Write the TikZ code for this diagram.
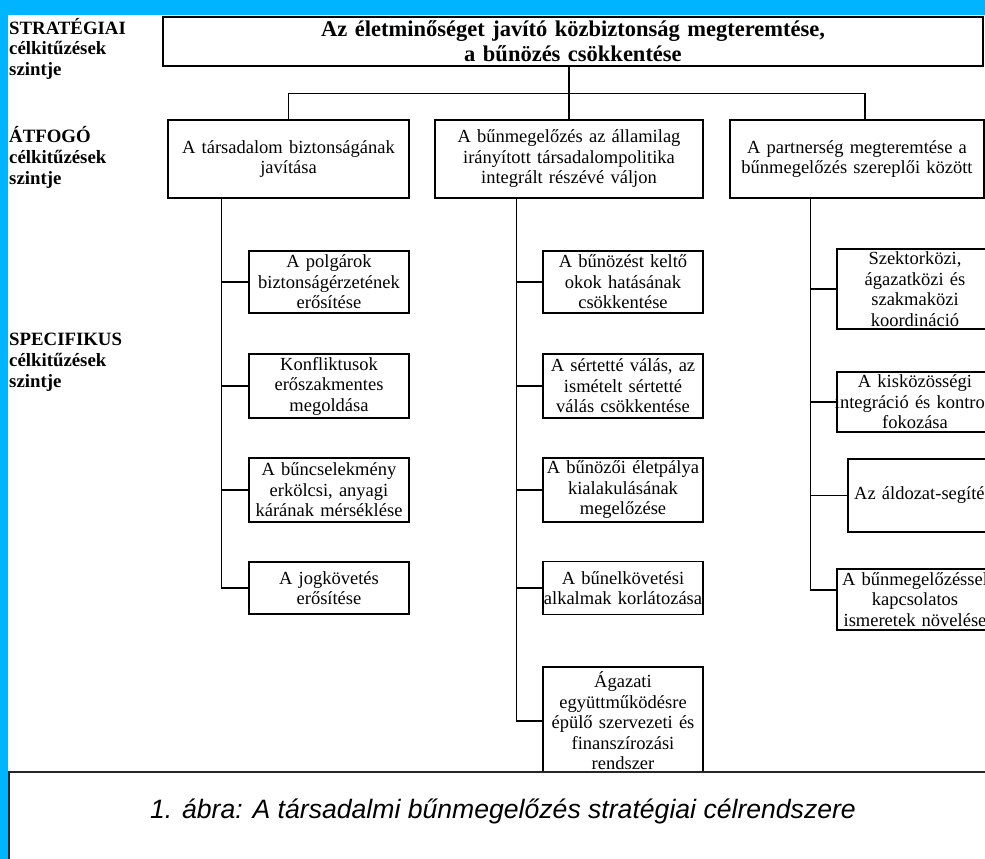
\documentclass[tikz,border=0pt]{standalone}
\usepackage{fontspec}
\setmainfont{Liberation Serif}
\newfontfamily\capfont{Liberation Sans}
\usetikzlibrary{positioning}

\definecolor{barblue}{RGB}{0,180,255}
\newcommand{\boxtxt}{\fontsize{18.5}{20.5}\selectfont}
\newcommand{\lvltxt}{\bfseries\fontsize{18.8}{21}\selectfont}
\newcommand{\wide}[1]{\makebox[\linewidth][c]{#1}}

\begin{document}
\begin{tikzpicture}[x=1pt,y=1pt,on grid,
    box/.style 2 args={draw, line width=1.3pt, inner sep=0pt, align=center,
        text width=#1, minimum height=#2, font=\boxtxt},
    lvl/.style={anchor=base west, align=left, inner sep=0pt, font=\lvltxt},
    wire/.style={line width=1.3pt}]

    \useasboundingbox (0,0) rectangle (985,-859);
    \fill[barblue] (0,0) rectangle (985,-15);
    \fill[barblue] (0,0) rectangle (8,-859);

    % levels (anchored at the baseline of the last line)
    \node[lvl] (l_str) at (9,-76) {STRATÉGIAI\\célkitűzések\\szintje};
    \node[lvl] (l_atf) at (9,-184) {ÁTFOGÓ\\célkitűzések\\szintje};
    \node[lvl] (l_spe) at (9,-387) {SPECIFIKUS\\célkitűzések\\szintje};

    % strategic and general goals
    \node[box={820pt}{49pt}, font=\bfseries\fontsize{22.5}{25}\selectfont] (top) at (573,-41.5)
        {Az életminőséget javító közbiztonság megteremtése,\\a bűnözés csökkentése};
    \node[box={268pt}{78pt}] (gb) [below left=117.5pt and 4pt of top]
        {A bűnmegelőzés az államilag\\irányított társadalompolitika\\integrált részévé váljon};
    \node[box={241pt}{78pt}] (ga) [left=280.5pt of gb]
        {A társadalom biztonságának\\javítása};
    \node[box={254pt}{78pt}] (gc) [right=288pt of gb]
        {A partnerség megteremtése a\\bűnmegelőzés szereplői között};

    % specific goals
    \node[box={160pt}{62pt}] (a1) [below right=123pt and 40.5pt of ga]
        {A polgárok\\biztonságérzetének\\erősítése};
    \node[box={160pt}{64pt}] (a2) [below=104pt of a1]
        {Konfliktusok\\erőszakmentes\\megoldása};
    \node[box={160pt}{64pt}] (a3) [below=104pt of a2]
        {A bűncselekmény\\erkölcsi, anyagi\\kárának mérséklése};
    \node[box={160pt}{52pt}] (a4) [below=98pt of a3]
        {A jogkövetés\\erősítése};

    \node[box={160pt}{62pt}] (b1) [below right=123pt and 54pt of gb]
        {A bűnözést keltő\\okok hatásának\\csökkentése};
    \node[box={160pt}{64pt}] (b2) [below=104pt of b1]
        {A sértetté válás, az\\ismételt sértetté\\válás csökkentése};
    \node[box={160pt}{64pt}] (b3) [below=104pt of b2]
        {A bűnözői életpálya\\kialakulásának\\megelőzése};
    \node[box={160pt}{53pt}] (b4) [below=98pt of b3]
        {A bűnelkövetési\\alkalmak korlátozása};
    \node[box={160pt}{108pt}] (b5) [below=133pt of b4]
        {Ágazati\\együttműködésre\\épülő szervezeti és\\finanszírozási\\rendszer};

    \node[box={156pt}{80pt}] (c1) [below right=130pt and 58pt of gc]
        {Szektorközi,\\ágazatközi és\\szakmaközi\\koordináció};
    \node[box={156pt}{60pt}] (c2) [below=113pt of c1]
        {A kisközösségi\\\wide{integráció és kontroll}\\fokozása};
    \node[box={150pt}{73pt}] (c3) [below right=93.5pt and 8pt of c2]
        {Az áldozat-segítés};
    \node[box={156pt}{61pt}] (c4) [below left=104pt and 8pt of c3]
        {A bűnmegelőzéssel\\kapcsolatos\\ismeretek növelése};

    % connectors
    \draw[wire] (top.south -| gb.north) -- (gb.north);
    \draw[wire] (ga.north) -- ++(0,26pt) -| ([xshift=8pt]gc.north);

    \draw[wire] ([xshift=54pt]ga.south west) |- (a4.west);
    \foreach \n in {a1,a2,a3}
        \draw[wire] (\n.west) -- ++(-27pt,0);

    \draw[wire] ([xshift=82pt]gb.south west) |- (b5.west);
    \foreach \n in {b1,b2,b3,b4}
        \draw[wire] (\n.west) -- ++(-26pt,0);

    \draw[wire] ([xshift=81pt]gc.south west) |- ([yshift=9.5pt]c4.west);
    \draw[wire] (c1.west) -- ++(-26pt,0);
    \draw[wire] (c2.west) -- ++(-26pt,0);
    \draw[wire] (c3.west) -- ++(-37pt,0);

    % caption
    \draw[line width=2pt, draw=black!85, fill=white] (9,-772) rectangle (1010,-900);
    \node (caption) at (503,-811)
        {\capfont\itshape\fontsize{26.6}{30}\selectfont 1. ábra: A társadalmi bűnmegelőzés stratégiai célrendszere};

\end{tikzpicture}
\end{document}
